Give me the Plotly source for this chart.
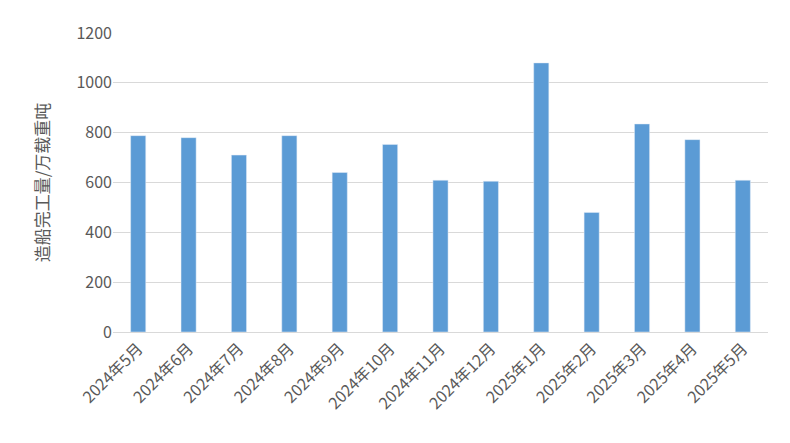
import plotly.graph_objects as go

months = ["2024年5月", "2024年6月", "2024年7月", "2024年8月", "2024年9月", "2024年10月",
          "2024年11月", "2024年12月", "2025年1月", "2025年2月", "2025年3月", "2025年4月", "2025年5月"]
completions = [788, 780, 710, 788, 640, 753, 609, 605, 1080, 480, 835, 772, 609]

fig = go.Figure(go.Bar(x=months, y=completions, marker_color="#5B9BD5", width=0.3))
fig.update_layout(
    width=790, height=443,
    paper_bgcolor="white", plot_bgcolor="white",
    margin=dict(l=105, r=30, t=16, b=119),
    font=dict(family="Noto Sans CJK SC", size=16, color="#595959"),
    showlegend=False,
)
fig.update_yaxes(range=[0, 1200], dtick=200, gridcolor="#D9D9D9", zeroline=False,
                 title=dict(text="造船完工量/万载重吨", font=dict(size=17), standoff=22),
                 ticks="", showline=False)
fig.update_xaxes(tickangle=-45, showline=True, linecolor="#D9D9D9", ticks="")
fig.write_html("out.html")
